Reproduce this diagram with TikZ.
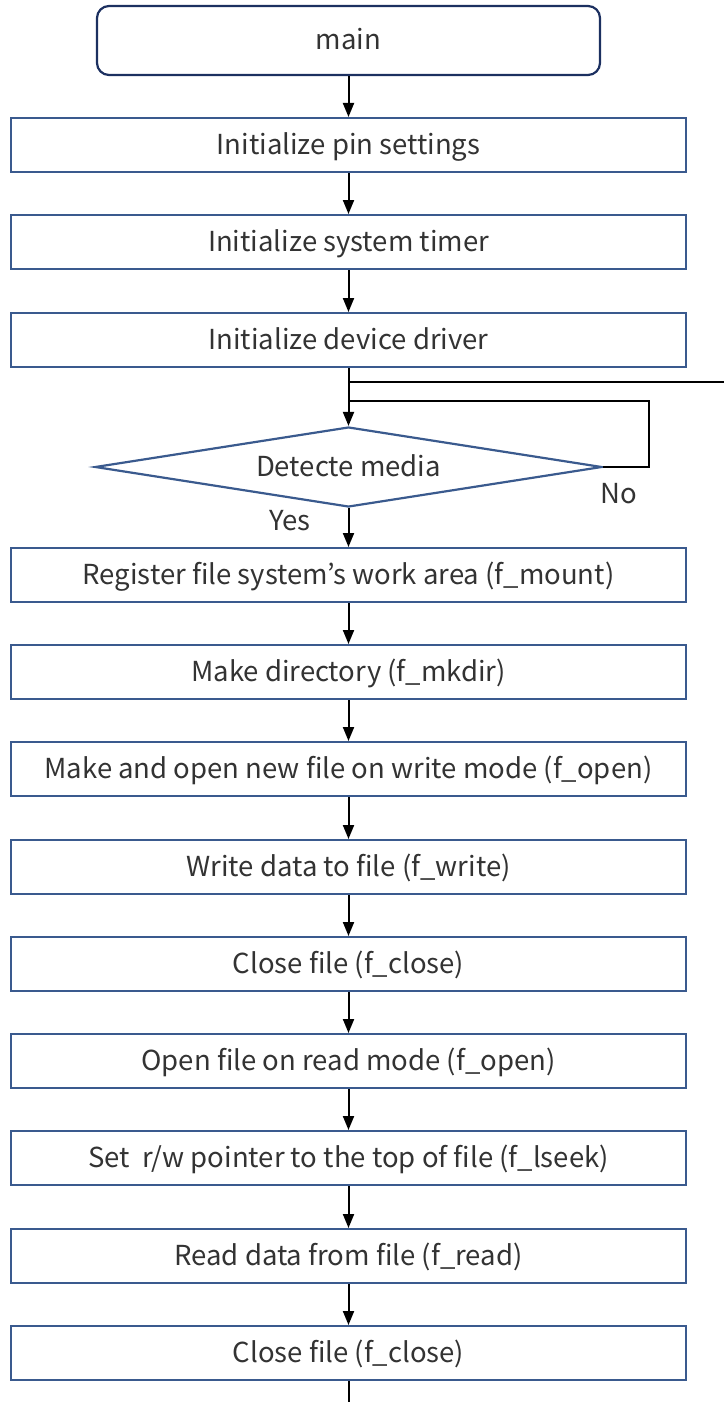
\documentclass[tikz,border=0pt]{standalone}
\usepackage{fontspec}
\setmainfont{Noto Sans CJK JP}
\usetikzlibrary{shapes.geometric,arrows.meta}
\definecolor{boxc}{HTML}{3A5A8E}
\definecolor{mainc}{HTML}{1C3060}
\definecolor{txt}{HTML}{333333}
\begin{document}
\begin{tikzpicture}[x=1pt,y=-1pt,
  every node/.style={font=\fontsize{27.5}{32}\selectfont, text=txt, text height=21pt, text depth=3pt},
  proc/.style={draw=boxc, line width=2pt, minimum width=675pt, minimum height=54pt, inner sep=0pt},
  startbox/.style={draw=mainc, line width=2.2pt, rounded corners=12pt, minimum width=503pt, minimum height=69pt, inner sep=0pt},
  decision/.style={draw=boxc, line width=2.2pt, diamond, aspect=6.34, minimum width=507pt, minimum height=80pt, inner sep=0pt},
  flow/.style={line width=2pt, -{Triangle[length=14pt,width=11pt]}},
  plain/.style={line width=2pt}]
\useasboundingbox (0,0) rectangle (724,1402);
\node[startbox] (main) at (348.5,40.5) {main};
\node[proc] (pin) at (348.5,145) {Initialize pin settings};
\node[proc] (tim) at (348.5,242) {Initialize system timer};
\node[proc] (drv) at (348.5,340) {Initialize device driver};
\node[decision] (det) at (348.5,467) {Detecte media};
\node[proc] (reg) at (348.5,575) {Register file system’s work area (f\_mount)};
\node[proc] (mkd) at (348.5,672) {Make directory (f\_mkdir)};
\node[proc] (opw) at (348.5,769) {Make and open new file on write mode (f\_open)};
\node[proc] (wr) at (348.5,867) {Write data to file (f\_write)};
\node[proc] (cl1) at (348.5,964) {Close file (f\_close)};
\node[proc] (opr) at (348.5,1061) {Open file on read mode (f\_open)};
\node[proc] (sk) at (348.5,1158) {Set\ \ r/w pointer to the top of file (f\_lseek)};
\node[proc] (rd) at (348.5,1256) {Read data from file (f\_read)};
\node[proc] (cl2) at (348.5,1353) {Close file (f\_close)};
\node (no) at (619,494) {No};
\node (yes) at (290,521) {Yes};
\coordinate (jA) at (348.5,382);
\coordinate (jAend) at (724,382);
\coordinate (jB) at (348.5,401);
\coordinate (lp) at (649,401);
\coordinate (endc) at (348.5,1402);
\draw[flow] (main) -- (pin);
\draw[flow] (pin) -- (tim);
\draw[flow] (tim) -- (drv);
\draw[flow] (drv) -- (det);
\draw[plain] (jA) -- (jAend);
\draw[plain] (det.east) -| (lp) -- (jB);
\draw[flow] (det) -- (reg);
\draw[flow] (reg) -- (mkd);
\draw[flow] (mkd) -- (opw);
\draw[flow] (opw) -- (wr);
\draw[flow] (wr) -- (cl1);
\draw[flow] (cl1) -- (opr);
\draw[flow] (opr) -- (sk);
\draw[flow] (sk) -- (rd);
\draw[flow] (rd) -- (cl2);
\draw[plain] (cl2) -- (endc);
\end{tikzpicture}
\end{document}
